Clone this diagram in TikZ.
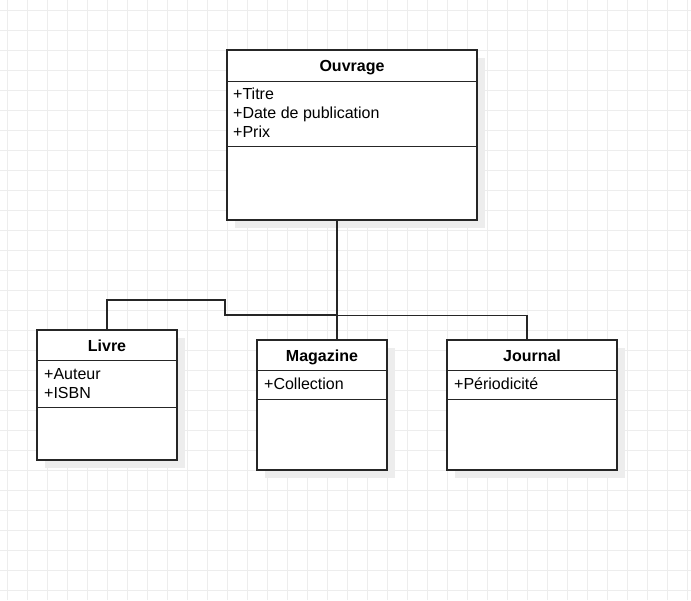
\documentclass[tikz,border=0pt]{standalone}
\usepackage{fontspec}
\setmainfont{Liberation Sans}
\usetikzlibrary{shadows}
\begin{document}
\begin{tikzpicture}[x=1pt,y=-1pt,
	class_node/.style={rectangle,draw=black!85,line width=1.2pt,fill=white,inner sep=0pt,drop shadow={fill=black!7,opacity=1,shadow xshift=8pt,shadow yshift=-8pt}},
	title_node/.style={anchor=base,inner sep=0pt,font=\fontsize{16}{19}\selectfont\bfseries},
	attr_node/.style={anchor=base west,inner sep=0pt,font=\fontsize{16}{19}\selectfont},
	sep_line/.style={draw=black!85,line width=1.2pt},
	link/.style={draw=black!85,line width=1.2pt},
	grid_line/.style={draw=black!7,line width=1pt}]
		
		\useasboundingbox (0,0) rectangle (691,600);
		\foreach \x in {7,27,...,687} \draw[grid_line] (\x,0) -- (\x,600);
		\foreach \y in {10,30,...,590} \draw[grid_line] (0,\y) -- (691,\y);
		
		\node[class_node,minimum width=250pt,minimum height=170pt] (ouvrage) at (352,135) {};
		\node[class_node,minimum width=140pt,minimum height=130pt] (livre) at (107,395) {};
		\node[class_node,minimum width=130pt,minimum height=130pt] (magazine) at (322,405) {};
		\node[class_node,minimum width=170pt,minimum height=130pt] (journal) at (532,405) {};
		
		\draw[sep_line] ([yshift=-32pt]ouvrage.north west) -- ([yshift=-32pt]ouvrage.north east);
		\draw[sep_line] ([yshift=-97pt]ouvrage.north west) -- ([yshift=-97pt]ouvrage.north east);
		\draw[sep_line] ([yshift=-31pt]livre.north west) -- ([yshift=-31pt]livre.north east);
		\draw[sep_line] ([yshift=-78pt]livre.north west) -- ([yshift=-78pt]livre.north east);
		\draw[sep_line] ([yshift=-31pt]magazine.north west) -- ([yshift=-31pt]magazine.north east);
		\draw[sep_line] ([yshift=-60pt]magazine.north west) -- ([yshift=-60pt]magazine.north east);
		\draw[sep_line] ([yshift=-31pt]journal.north west) -- ([yshift=-31pt]journal.north east);
		\draw[sep_line] ([yshift=-60pt]journal.north west) -- ([yshift=-60pt]journal.north east);
		
		\node[title_node] (ouvrage_title) at (352,71) {Ouvrage};
		\node[attr_node] (titre) at (233,99) {+Titre};
		\node[attr_node] (date) at (233,118) {+Date de publication};
		\node[attr_node] (prix) at (233,137) {+Prix};
		
		\node[title_node] (livre_title) at (107,351) {Livre};
		\node[attr_node] (auteur) at (44,379) {+Auteur};
		\node[attr_node] (isbn) at (44,398) {+ISBN};
		
		\node[title_node] (magazine_title) at (322,361) {Magazine};
		\node[attr_node] (collection) at (264,389) {+Collection};
		
		\node[title_node] (journal_title) at (532,361) {Journal};
		\node[attr_node] (periodicite) at (454,389) {+Périodicité};
		
		\draw[link] ([xshift=-15pt]ouvrage.south) |- (225,315) -- (225,300) -| (livre.north);
		\draw[link] ([xshift=-15pt]ouvrage.south) -- ([xshift=15pt]magazine.north);
		\draw[link] ([xshift=-15pt]ouvrage.south) -- ++(0,95) -| ([xshift=-5pt]journal.north);
		\end{tikzpicture}
\end{document}
